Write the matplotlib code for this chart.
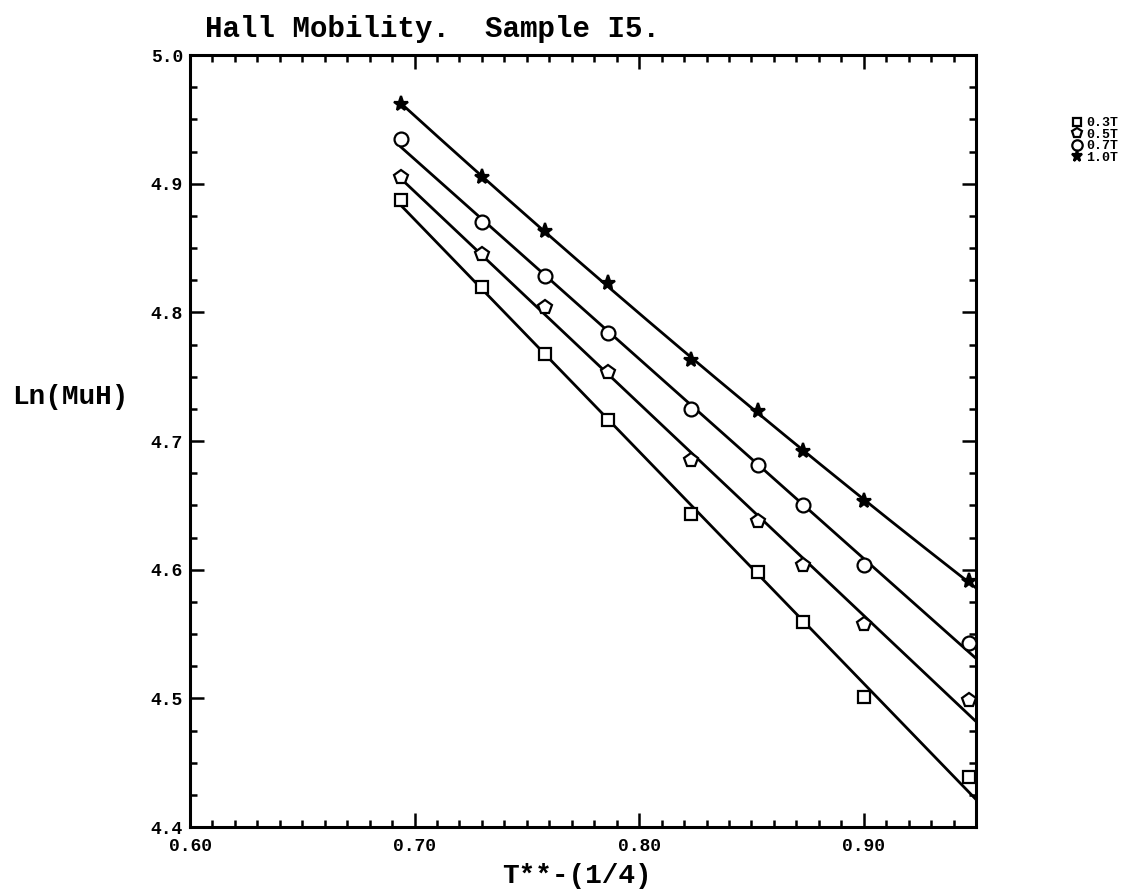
import numpy as np
import matplotlib
matplotlib.use('Agg')
import matplotlib.pyplot as plt
from matplotlib.ticker import MultipleLocator, FixedLocator

# ---- data ----
t_inv4 = [0.694, 0.730, 0.758, 0.786, 0.823, 0.853, 0.873, 0.900, 0.947]
mu_03 = [4.887, 4.820, 4.768, 4.716, 4.643, 4.598, 4.559, 4.501, 4.439]
mu_05 = [4.905, 4.845, 4.804, 4.754, 4.685, 4.638, 4.604, 4.558, 4.499]
mu_07 = [4.935, 4.870, 4.828, 4.784, 4.725, 4.681, 4.650, 4.604, 4.543]
mu_10 = [4.962, 4.905, 4.863, 4.823, 4.763, 4.723, 4.692, 4.653, 4.591]
series_labels = ['0.3T', '0.5T', '0.7T', '1.0T']
x_ticks = [0.60, 0.70, 0.80, 0.90]
y_ticks = [4.4, 4.5, 4.6, 4.7, 4.8, 4.9, 5.0]
fit_degree = [1, 1, 1, 2]

FONT = 'Liberation Mono'
plt.rcParams['font.family'] = [FONT, 'DejaVu Sans Mono']
plt.rcParams['font.weight'] = 'bold'

fig = plt.figure(figsize=(11.43, 8.92), dpi=100)
ax = fig.add_axes([190/1143, 1-827/892, (976-190)/1143, (827-55)/892])

markers = [dict(marker='s', ms=8, mfc='white'),
           dict(marker='p', ms=10, mfc='white'),
           dict(marker='o', ms=10, mfc='white'),
           dict(marker='*', ms=11, mfc='black')]

xlim = (0.60, 0.95)
handles = []
for ys, deg, mk, lab in zip([mu_03, mu_05, mu_07, mu_10], fit_degree, markers, series_labels):
    xs = np.array(t_inv4)
    coef = np.polyfit(xs, ys, deg)
    xf = np.linspace(xs[0], xlim[1], 200)
    ax.plot(xf, np.polyval(coef, xf), color='black', lw=2.0, zorder=2)
    h, = ax.plot(xs, ys, linestyle='none', color='black', mec='black', mew=1.6,
                 zorder=3, label=lab, **mk)
    handles.append(h)

ax.set_xlim(*xlim)
ax.set_ylim(4.4, 5.0)
ax.xaxis.set_major_locator(FixedLocator(x_ticks))
ax.xaxis.set_minor_locator(MultipleLocator(0.01))
ax.yaxis.set_major_locator(FixedLocator(y_ticks))
ax.yaxis.set_minor_locator(MultipleLocator(0.025))
ax.set_xticklabels([f'{v:.2f}' for v in x_ticks])
ax.set_yticklabels([f'{v:.1f}' for v in y_ticks])
ax.tick_params(which='both', direction='in', top=True, right=True, width=1.8,
               labelsize=13)
ax.tick_params(axis='x', which='both', pad=8)
ax.tick_params(axis='y', which='both', pad=5)
ax.tick_params(which='major', length=10)
ax.tick_params(which='minor', length=5)
for lab in ax.get_xticklabels() + ax.get_yticklabels():
    lab.set_fontweight('bold')
for s in ax.spines.values():
    s.set_linewidth(2.2)

fig.text(205/1143, 1-37/892, 'Hall Mobility.  Sample I5.', fontsize=21,
         fontweight='bold', ha='left', va='baseline')
fig.text(577/1143, 1-876/892, 'T**-(1/4)', fontsize=20, fontweight='bold',
         ha='center', va='center')
fig.text(70/1143, 1-397/892, 'Ln(MuH)', fontsize=20, fontweight='bold',
         ha='center', va='center')

fig.legend(handles=handles, loc='upper left',
           bbox_to_anchor=(1073/1143, 1-117/892), frameon=False,
           prop=dict(family=FONT, weight='bold', size=9.5), markerscale=0.75,
           handlelength=0.6, handletextpad=0.4, labelspacing=-0.05,
           borderpad=0, borderaxespad=0)

fig.savefig('out.png', dpi=100, facecolor='white')
